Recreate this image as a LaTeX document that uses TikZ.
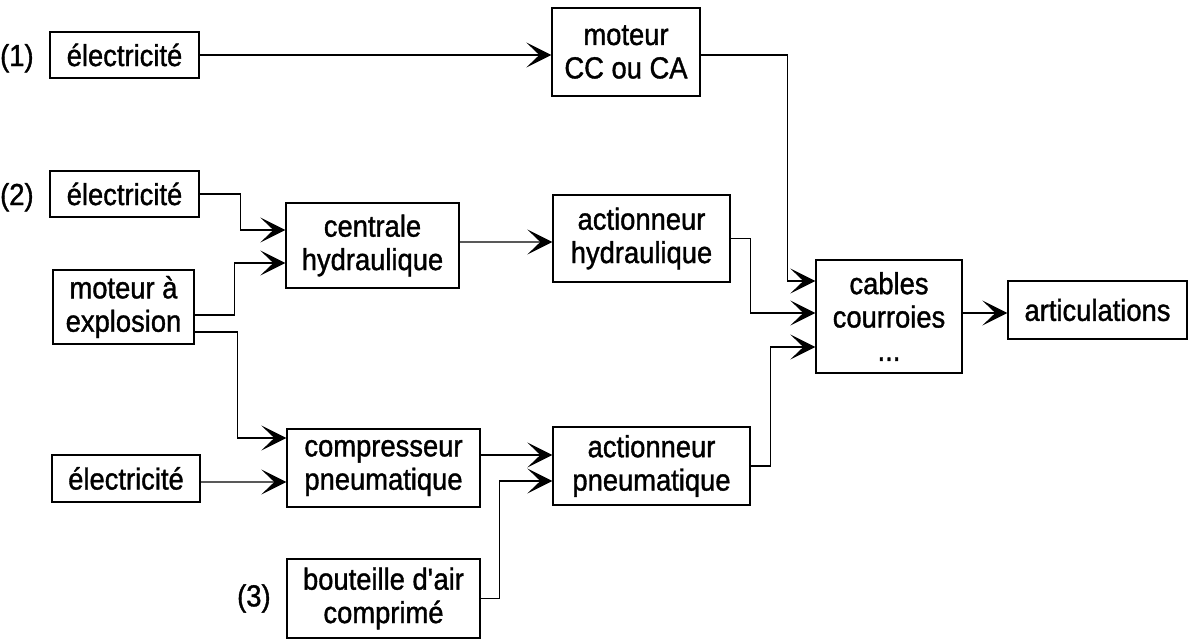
\documentclass[tikz,border=0pt]{standalone}
\usepackage{fontspec}
\setmainfont[FakeStretch=0.9,FakeBold=1.2]{Liberation Sans}
\usepackage{tikz}
\usetikzlibrary{arrows.meta,positioning,calc}

\begin{document}
\begin{tikzpicture}[x=0.02cm,y=-0.02cm,
                >={Stealth[length=0.5cm,width=0.5cm,inset=0.26cm]},
                line width=0.8pt,
                every node/.style={font=\fontsize{17.3}{19}\selectfont},
                block/.style={draw,rectangle,align=center,inner sep=2pt},
                tag/.style={inner sep=0pt}]
            \useasboundingbox (0,0) rectangle (1189,639);
            \node [block,minimum width=2.98cm,minimum height=0.92cm] (e1)   at (124.5,55)  {électricité};
            \node [block,minimum width=2.96cm,minimum height=1.76cm] (mcc)  at (626,52)    {moteur\\CC ou CA};
            \node [block,minimum width=2.98cm,minimum height=0.92cm] (e2)   at (124.5,194) {électricité};
            \node [block,minimum width=3.46cm,minimum height=1.70cm] (cent) at (372.5,245.5) {centrale\\hydraulique};
            \node [block,minimum width=3.54cm,minimum height=1.74cm] (ahy)  at (641.5,238.5) {actionneur\\hydraulique};
            \node [block,minimum width=2.82cm,minimum height=1.48cm] (mexp) at (123.5,307) {moteur à\\explosion};
            \node [block,minimum width=2.92cm,minimum height=2.26cm] (cab)  at (889,316.5) {cables\\courroies\\...};
            \node [block,minimum width=3.58cm,minimum height=1.16cm] (art)  at (1097.5,310) {articulations};
            \node [block,minimum width=2.96cm,minimum height=0.94cm] (e3)   at (126,478.5) {électricité};
            \node [block,minimum width=3.86cm,minimum height=1.56cm] (comp) at (383.5,468) {compresseur\\pneumatique};
            \node [block,minimum width=3.94cm,minimum height=1.56cm] (apn)  at (651.5,466) {actionneur\\pneumatique};
            \node [block,minimum width=3.86cm,minimum height=1.58cm] (bout) at (383.5,598.5) {bouteille d\textquotesingle air\\comprimé};
            \node [tag,anchor=base east] (t1) at ([xshift=-0.3cm]e1.base west) {(1)};
            \node [tag,anchor=base east] (t2) at ([xshift=-0.3cm]e2.base west) {(2)};
            \node [tag,left=0.3cm of bout] (t3) {(3)};
            \draw [->] (e1.east) -- ($(mcc.west)+(0,3)$);
            \draw [->] (e2.east) -- ++(41,0) |- ($(cent.west)+(0,-15.5)$);
            \draw [->] ($(mexp.east)+(0,8)$) -- ++(40,0) |- ($(cent.west)+(0,17.5)$);
            \draw [->] ($(mexp.east)+(0,25)$) -- ++(43,0) |- ($(comp.west)+(0,-30)$);
            \draw [->] ($(e3.east)+(0,3.5)$) -- ($(comp.west)+(0,14)$);
            \draw [->] ($(cent.east)+(0,-3.5)$) -- ($(ahy.west)+(0,3.5)$);
            \draw [->] ($(comp.east)+(0,-13)$) -- ($(apn.west)+(0,-11)$);
            \draw [->] (bout.east) -- ++(19,0) |- ($(apn.west)+(0,15)$);
            \draw [->] ($(mcc.east)+(0,3)$) -- ++(87,0) |- ($(cab.west)+(0,-35.5)$);
            \draw [->] (ahy.east) -- ++(20,0) |- ($(cab.west)+(0,-3.5)$);
            \draw [->] (apn.east) -- ++(20,0) |- ($(cab.west)+(0,30.5)$);
            \draw [->] ($(cab.east)+(0,-3.5)$) -- ($(art.west)+(0,3)$);
        \end{tikzpicture}
\end{document}
